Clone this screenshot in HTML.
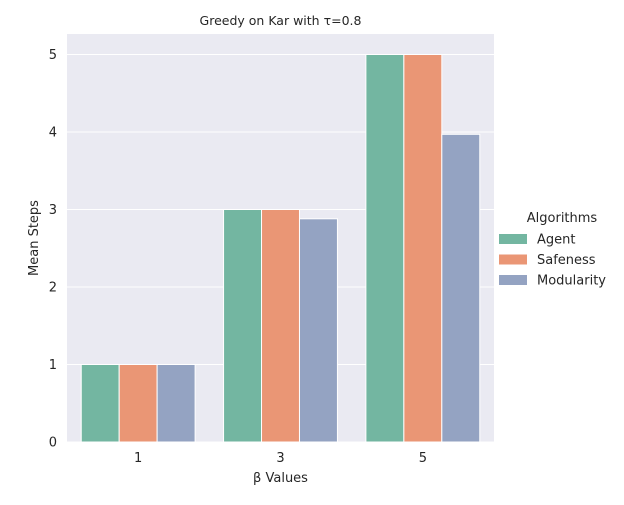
<!DOCTYPE html>
<html><head><meta charset="utf-8"><style>
body{margin:0;background:#fff;}
svg text{font-family:"DejaVu Sans","Liberation Sans",sans-serif;fill:#262626;}
</style></head><body>
<svg width="624" height="500" xmlns="http://www.w3.org/2000/svg">
<g id="plot"></g>
</svg>
<script>
const categories=["1","3","5"];
const seriesNames=["Agent","Safeness","Modularity"];
const agent=[1,3,5];
const safeness=[1,3,5];
const modularity=[1,2.88,3.97];
const yTicks=[0,1,2,3,4,5];
const colors=["#73b6a1","#ea9675","#94a3c2"];
const NS="http://www.w3.org/2000/svg";
const L=67,R=494,T=34,B=442;
const y=v=>B-v*77.5;
const step=(R-L)/categories.length;
const xc=i=>L+step*(i+0.5);
const svg=document.querySelector('svg');
function el(tag,attrs,parent){const e=document.createElementNS(NS,tag);for(const k in attrs)e.setAttribute(k,attrs[k]);(parent||svg).appendChild(e);return e;}
const bg=el('rect',{x:L,y:T,width:R-L,height:B-T,fill:'#eaeaf2'});


yTicks.forEach(t=>{
 const g=el('line',{x1:L,x2:R,y1:y(t),y2:y(t),stroke:'#fff','stroke-width':1});
 
 
 const tx=el('text',{x:L-10,y:y(t)+4.5,'text-anchor':'end','font-size':13});
 tx.textContent=t;
 
 
});
const data=[agent,safeness,modularity];
const bw=step*0.8/3;
categories.forEach((c,i)=>{
 data.forEach((s,j)=>{
  const x0=xc(i)-step*0.4+j*bw;
  const r=el('rect',{x:x0,y:y(s[i]),width:bw,height:B-y(s[i]),fill:colors[j],stroke:'#fff','stroke-width':1});
  
  
 });
 const tx=el('text',{x:xc(i),y:B+20,'text-anchor':'middle','font-size':13});
 tx.textContent=c;
 
 
});
const title=el('text',{x:(L+R)/2,y:25,'text-anchor':'middle','font-size':12.5});
title.textContent='Greedy on Kar with τ=0.8';


const xt=el('text',{x:(L+R)/2,y:482,'text-anchor':'middle','font-size':13});
xt.textContent='β Values';


const yt=el('text',{x:0,y:0,'text-anchor':'middle','font-size':13,transform:'translate(38,'+((T+B)/2)+') rotate(-90)'});
yt.textContent='Mean Steps';


const lt=el('text',{x:562,y:222,'text-anchor':'middle','font-size':13});
lt.textContent='Algorithms';


seriesNames.forEach((n,j)=>{
 const yy=239+j*20.5;
 const sw=el('rect',{x:499,y:yy-5,width:28,height:10,fill:colors[j]});
 
 
 const t=el('text',{x:537,y:yy+4.5,'font-size':13});
 t.textContent=n;
 
 
});
</script>
</body></html>
